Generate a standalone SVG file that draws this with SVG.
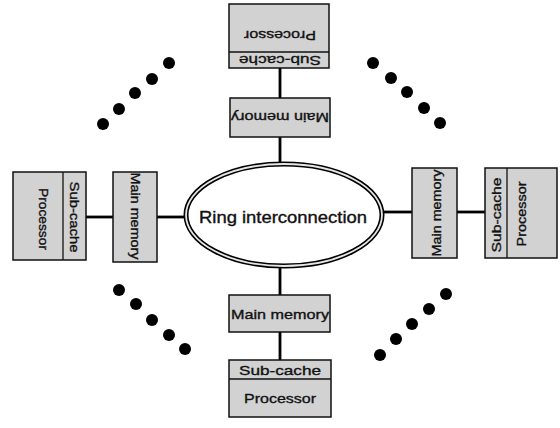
<svg xmlns="http://www.w3.org/2000/svg" width="560" height="428" viewBox="0 0 560 428">
<style>
.box{fill:#d2d2d2;stroke:#111;stroke-width:1.5}
.div{stroke:#111;stroke-width:1.3}
.t{font-family:"Liberation Sans",Arial,sans-serif;font-size:13.5px;fill:#111;stroke:#111;stroke-width:0.35;text-anchor:middle;dominant-baseline:central}
.conn line{stroke:#000;stroke-width:2.8}
.dot{fill:#000}
</style>
<rect width="560" height="428" fill="#fff"/>
<g id="connectors" class="conn">
<line x1="280" y1="68" x2="280" y2="98"/>
<line x1="280" y1="137" x2="280" y2="164"/>
<line x1="280" y1="266" x2="280" y2="295"/>
<line x1="280" y1="332" x2="280" y2="360"/>
<line x1="86" y1="217" x2="113" y2="217"/>
<line x1="157" y1="217" x2="186" y2="217"/>
<line x1="382" y1="212" x2="412" y2="212"/>
<line x1="457" y1="212" x2="485" y2="212"/>
</g>
<g id="ring">
<ellipse cx="284" cy="215" rx="98" ry="51" fill="#fff" stroke="#000" stroke-width="5"/>
<ellipse cx="284" cy="215" rx="98" ry="51" fill="none" stroke="#e6e6e6" stroke-width="1.8"/>
<text class="t" x="283" y="217" style="font-size:16px" textLength="168" lengthAdjust="spacingAndGlyphs">Ring interconnection</text>
</g>
<g id="top-memory">
<rect class="box" x="230" y="98" width="100" height="39"/>
<text class="t" transform="translate(280,117) rotate(180)" textLength="98" lengthAdjust="spacingAndGlyphs">Main memory</text>
</g>
<g id="top-processor">
<rect class="box" x="229" y="4" width="100" height="64"/>
<line class="div" x1="229" y1="52" x2="329" y2="52"/>
<text class="t" transform="translate(280,60) rotate(180)" textLength="82" lengthAdjust="spacingAndGlyphs">Sub-cache</text>
<text class="t" transform="translate(280,35) rotate(180)" textLength="72" lengthAdjust="spacingAndGlyphs">Processor</text>
</g>
<g id="bottom-memory">
<rect class="box" x="229" y="295" width="101" height="37"/>
<text class="t" x="280" y="314" textLength="98" lengthAdjust="spacingAndGlyphs">Main memory</text>
</g>
<g id="bottom-processor">
<rect class="box" x="229" y="360" width="102" height="57"/>
<line class="div" x1="229" y1="379" x2="331" y2="379"/>
<text class="t" x="280" y="370" textLength="82" lengthAdjust="spacingAndGlyphs">Sub-cache</text>
<text class="t" x="280" y="398" textLength="72" lengthAdjust="spacingAndGlyphs">Processor</text>
</g>
<g id="left-memory">
<rect class="box" x="113" y="172" width="44" height="90"/>
<text class="t" transform="translate(135,216) rotate(90)" textLength="87" lengthAdjust="spacingAndGlyphs">Main memory</text>
</g>
<g id="left-processor">
<rect class="box" x="13" y="172" width="73" height="88"/>
<line class="div" x1="63" y1="172" x2="63" y2="260"/>
<text class="t" transform="translate(74,217) rotate(90)" textLength="71" lengthAdjust="spacingAndGlyphs">Sub-cache</text>
<text class="t" transform="translate(43,219) rotate(90)" textLength="62" lengthAdjust="spacingAndGlyphs">Processor</text>
</g>
<g id="right-memory">
<rect class="box" x="412" y="168" width="45" height="90"/>
<text class="t" transform="translate(436,213) rotate(-90)" textLength="87" lengthAdjust="spacingAndGlyphs">Main memory</text>
</g>
<g id="right-processor">
<rect class="box" x="485" y="168" width="72" height="90"/>
<line class="div" x1="507" y1="168" x2="507" y2="258"/>
<text class="t" transform="translate(496,215) rotate(-90)" textLength="75" lengthAdjust="spacingAndGlyphs">Sub-cache</text>
<text class="t" transform="translate(521,214) rotate(-90)" textLength="65" lengthAdjust="spacingAndGlyphs">Processor</text>
</g>
<g id="dots">
<circle class="dot" cx="103" cy="124" r="6"/>
<circle class="dot" cx="119" cy="109" r="6"/>
<circle class="dot" cx="135" cy="93" r="6"/>
<circle class="dot" cx="152" cy="79" r="6"/>
<circle class="dot" cx="169" cy="63" r="6"/>
<circle class="dot" cx="373" cy="63" r="6"/>
<circle class="dot" cx="391" cy="78" r="6"/>
<circle class="dot" cx="407" cy="92" r="6"/>
<circle class="dot" cx="424" cy="108" r="6"/>
<circle class="dot" cx="440" cy="123" r="6"/>
<circle class="dot" cx="119" cy="290" r="6"/>
<circle class="dot" cx="136" cy="304" r="6"/>
<circle class="dot" cx="152" cy="320" r="6"/>
<circle class="dot" cx="169" cy="335" r="6"/>
<circle class="dot" cx="185" cy="349" r="6"/>
<circle class="dot" cx="446" cy="294" r="6"/>
<circle class="dot" cx="429" cy="309" r="6"/>
<circle class="dot" cx="412" cy="324" r="6"/>
<circle class="dot" cx="396" cy="339" r="6"/>
<circle class="dot" cx="380" cy="355" r="6"/>
</g>
</svg>
